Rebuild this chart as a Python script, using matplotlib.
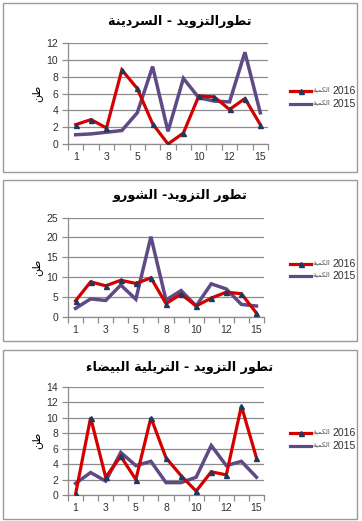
import matplotlib
matplotlib.use("Agg")
import matplotlib.pyplot as plt
from matplotlib.lines import Line2D
from matplotlib.patches import Rectangle

# ---------------- data ----------------
days = ['1', '2', '3', '4', '5', '6', '8', '9', '10', '11', '12', '14', '15']

sardine_2016 = [2.3, 2.9, 1.9, 8.8, 6.6, 2.4, 0.0, 1.3, 5.7, 5.6, 4.1, 5.4, 2.3]
sardine_2015 = [1.1, 1.2, 1.4, 1.6, 3.7, 9.2, 1.5, 7.8, 5.5, 5.1, 5.0, 10.9, 3.7]

shorou_2016 = [4.0, 8.8, 7.8, 9.2, 8.4, 9.8, 3.3, 5.7, 2.7, 4.7, 6.2, 5.8, 0.9]
shorou_2015 = [2.1, 4.5, 4.1, 8.0, 4.4, 20.2, 4.2, 6.6, 2.7, 8.3, 7.0, 3.1, 2.7]

trilia_2016 = [0.1, 10.0, 2.3, 5.0, 2.0, 10.0, 4.8, 2.5, 0.5, 3.0, 2.6, 11.5, 4.8]
trilia_2015 = [1.5, 2.9, 1.8, 5.5, 3.8, 4.35, 1.6, 1.6, 2.3, 6.4, 3.8, 4.35, 2.3]

titles = ["تطورالتزويد - السردينة", "تطور التزويد- الشورو", "تطور التزويد - التريلية البيضاء"]
ylabel = "طن"
series_names = ["الكمية", "الكمية"]
years = ["2016", "2015"]
yticks_list = [[0, 2, 4, 6, 8, 10, 12], [0, 5, 10, 15, 20, 25], [0, 2, 4, 6, 8, 10, 12, 14]]

# ---------------- minimal Arabic shaping ----------------
_forms = {  # letter: (base code, dual-joining?)
    'ء': (0xFE80, None), 'ا': (0xFE8D, False), 'ب': (0xFE8F, True), 'ة': (0xFE93, False),
    'ت': (0xFE95, True), 'د': (0xFEA9, False), 'ر': (0xFEAD, False), 'ز': (0xFEAF, False),
    'س': (0xFEB1, True), 'ش': (0xFEB5, True), 'ض': (0xFEBD, True), 'ط': (0xFEC1, True),
    'ك': (0xFED9, True), 'ل': (0xFEDD, True), 'م': (0xFEE1, True), 'ن': (0xFEE5, True),
    'و': (0xFEED, False), 'ي': (0xFEF1, True),
}


def shape(s):
    out = []
    n = len(s)
    for i, ch in enumerate(s):
        if ch not in _forms:
            out.append(ch)
            continue
        base, dual = _forms[ch]
        if dual is None:
            out.append(chr(base))
            continue
        prev = s[i - 1] if i > 0 else ''
        nxt = s[i + 1] if i + 1 < n else ''
        jp = prev in _forms and _forms[prev][1] is True
        jn = dual and nxt in _forms and _forms[nxt][1] is not None
        if jp and jn:
            out.append(chr(base + 3))
        elif jp:
            out.append(chr(base + 1))
        elif jn:
            out.append(chr(base + 2))
        else:
            out.append(chr(base))
    return ''.join(out)


def rtl(s):
    return shape(s)[::-1]


# ---------------- layout ----------------
W, H = 362, 521
fig = plt.figure(figsize=(W / 100, H / 100), dpi=100)
fig.patch.set_facecolor('white')

def frac(l, t, r, b):
    return [l / W, 1 - b / H, (r - l) / W, (b - t) / H]

panels = [
    dict(box=(3, 3, 357, 172), ax=(68, 43, 268, 144), title_y=21, leg_y=(90.5, 104),
         d16=sardine_2016, d15=sardine_2015, ylim=12),
    dict(box=(3, 180, 357, 341), ax=(68, 217.7, 264, 316.7), title_y=196, leg_y=(264, 276),
         d16=shorou_2016, d15=shorou_2015, ylim=25),
    dict(box=(3, 350, 357, 519), ax=(68, 386.7, 264, 495), title_y=367, leg_y=(432.5, 446),
         d16=trilia_2016, d15=trilia_2015, ylim=14),
]

RED = '#D40000'
PURPLE = '#5E4A84'
MARK = '#1F3A5F'
GRID = '#8C8C8C'
TXT = '#303030'
FONT = ['Liberation Sans', 'DejaVu Sans']

for k, p in enumerate(panels):
    l, t, r, b = p['box']
    fig.patches.append(Rectangle((l / W, 1 - b / H), (r - l) / W, (b - t) / H,
                                 transform=fig.transFigure, fill=False,
                                 edgecolor='#9A9A9A', linewidth=1.0))
    ax = fig.add_axes(frac(*p['ax']))
    x = list(range(len(days)))
    ax.plot(x, p['d15'], color=PURPLE, lw=2.5, solid_joinstyle='miter', zorder=3)
    ax.plot(x, p['d16'], color=RED, lw=2.3, marker='^', markersize=3.6,
            markerfacecolor=MARK, markeredgecolor=MARK, solid_joinstyle='miter', zorder=4)
    ax.set_xlim(-0.5, len(days) - 0.5)
    ax.set_ylim(0, p['ylim'])
    ax.set_yticks(yticks_list[k])
    ax.yaxis.grid(True, color=GRID, lw=0.9)
    ax.set_axisbelow(True)
    ax.set_xticks(x[::2])
    ax.set_xticklabels(days[::2], fontsize=7.5, color=TXT, family=FONT)
    ax.set_xticks([i - 0.5 for i in range(len(days) + 1)], minor=True)
    ax.tick_params(axis='x', which='major', length=0, pad=6)
    ax.tick_params(axis='x', which='minor', length=4, color=GRID, width=0.9)
    ax.tick_params(axis='y', length=4, color=GRID, width=0.9, labelsize=7.5,
                   labelcolor=TXT, pad=3)
    for lab in ax.get_yticklabels():
        lab.set_family(FONT)
    for s in ('top', 'right'):
        ax.spines[s].set_visible(False)
    for s in ('left', 'bottom'):
        ax.spines[s].set_color(GRID)
        ax.spines[s].set_linewidth(0.9)
    ax.set_ylabel(rtl(ylabel), fontsize=8, family=FONT, color='black', labelpad=3)

    fig.text(180 / W, 1 - p['title_y'] / H, rtl(titles[k]), ha='center', va='center',
             fontsize=9.2, fontweight='bold', family=['DejaVu Sans'])

    # legend
    for j, (col, yr) in enumerate(zip([RED, PURPLE], years)):
        yy = 1 - p['leg_y'][j] / H
        fig.lines.append(Line2D([290 / W, 311 / W], [yy, yy], transform=fig.transFigure,
                                color=col, lw=2.3))
        if j == 0:
            fig.lines.append(Line2D([301 / W], [yy], transform=fig.transFigure, marker='^',
                                    markersize=3.6, color=MARK))
        fig.text(330 / W, yy, rtl(series_names[j]), ha='right', va='center',
                 fontsize=5, family=FONT, color='#555555')
        fig.text(332 / W, yy, yr, ha='left', va='center',
                 fontsize=7.5, family=FONT, color=TXT)

fig.savefig('out.png', dpi=100, facecolor='white')
